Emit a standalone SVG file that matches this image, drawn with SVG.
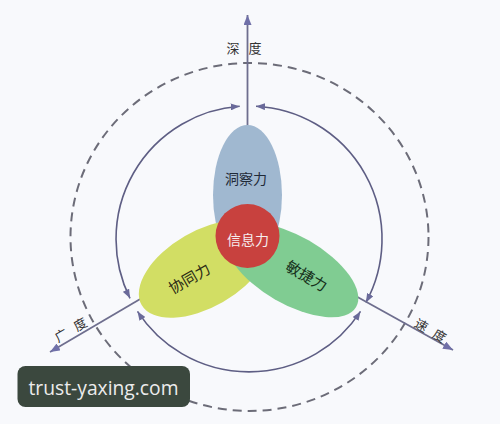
<svg xmlns="http://www.w3.org/2000/svg" width="500" height="424" viewBox="0 0 500 424">
  <defs>
    <marker id="arcHead" markerUnits="userSpaceOnUse" markerWidth="9" markerHeight="7" viewBox="0 0 9 7" refX="9" refY="3.5" orient="auto-start-reverse">
      <path d="M0,0 L9,3.5 L0,7 z" fill="#6a6a9a"/>
    </marker>
    <marker id="axisHead" markerUnits="userSpaceOnUse" markerWidth="10" markerHeight="8" viewBox="0 0 10 8" refX="10" refY="4" orient="auto">
      <path d="M0,0 L10,4 L0,8 z" fill="#7070a8"/>
    </marker>
  </defs>
  <style>
    .dash { fill: none; stroke: #6c6c78; stroke-width: 2; stroke-dasharray: 9 6; }
    .arc { fill: none; stroke: #5e5e84; stroke-width: 1.6; marker-start: url(#arcHead); marker-end: url(#arcHead); }
    .axis { fill: none; stroke: #6e6e8e; stroke-width: 1.8; marker-end: url(#axisHead); }
    .cjk { font-family: "Noto Sans CJK SC", "Noto Sans", sans-serif; dominant-baseline: central; text-anchor: middle; }
    .petal { font-size: 14px; }
    .axlbl { font-size: 13px; fill: #333333; }
  </style>
  <rect x="0" y="0" width="500" height="424" fill="#f8f9fc"/>

  <g id="rings">
    <ellipse class="dash" cx="249.5" cy="237" rx="179" ry="174"/>
  </g>

  <g id="connectors">
    <path class="arc" d="M239.7 106.3 A133 133 0 0 0 130.0 298.3"/>
    <path class="arc" d="M256 106.2 A133 133 0 0 1 365.9 302.5"/>
    <path class="arc" d="M360.5 311.4 A133 133 0 0 1 137.5 311.4"/>
    <path class="axis" d="M247.5 236 L247.5 15"/>
    <path class="axis" d="M247.5 236 L50 352"/>
    <path class="axis" d="M247.5 236 L453 350"/>
  </g>

  <g id="node-insight">
    <ellipse cx="247.5" cy="195" rx="34.5" ry="70" fill="#a0b8d0"/>
    <text class="cjk petal" x="246" y="178" fill="#1f2a38">洞察力</text>
  </g>
  <g id="node-collab">
    <ellipse cx="0" cy="0" rx="72" ry="38" fill="#d2de64" transform="translate(204 269) rotate(-30)"/>
    <text class="cjk" x="0" y="0" font-size="15" fill="#2a2a14" transform="translate(189 277.5) rotate(-30)">协同力</text>
  </g>
  <g id="node-agile">
    <ellipse cx="0" cy="0" rx="74" ry="34" fill="#80cc92" transform="translate(292 270) rotate(30)"/>
    <text class="cjk" x="0" y="0" font-size="15" fill="#16301a" transform="translate(307 275) rotate(30)">敏捷力</text>
  </g>
  <g id="node-info">
    <circle cx="247.5" cy="236" r="32" fill="#c8413e"/>
    <text class="cjk petal" x="248" y="238.5" fill="#f6eeee">信息力</text>
  </g>

  <g id="axis-labels">
    <text class="cjk axlbl" x="233 244 255" y="47.5">深 度</text>
    <text class="cjk axlbl" x="-11 0 11" y="0" transform="translate(70.3 329.2) rotate(-30)">广 度</text>
    <text class="cjk axlbl" x="-10.5 0 10.5" y="0" transform="translate(430.8 330) rotate(30)">速 度</text>
  </g>

  <g id="watermark">
    <rect x="17.5" y="366" width="172.5" height="41" rx="8" fill="#3b483e"/>
    <text x="103.5" y="395" font-family="'Open Sans', 'Noto Sans', sans-serif" font-size="20" fill="#ececec" text-anchor="middle" textLength="150" lengthAdjust="spacingAndGlyphs">trust-yaxing.com</text>
  </g>
</svg>
